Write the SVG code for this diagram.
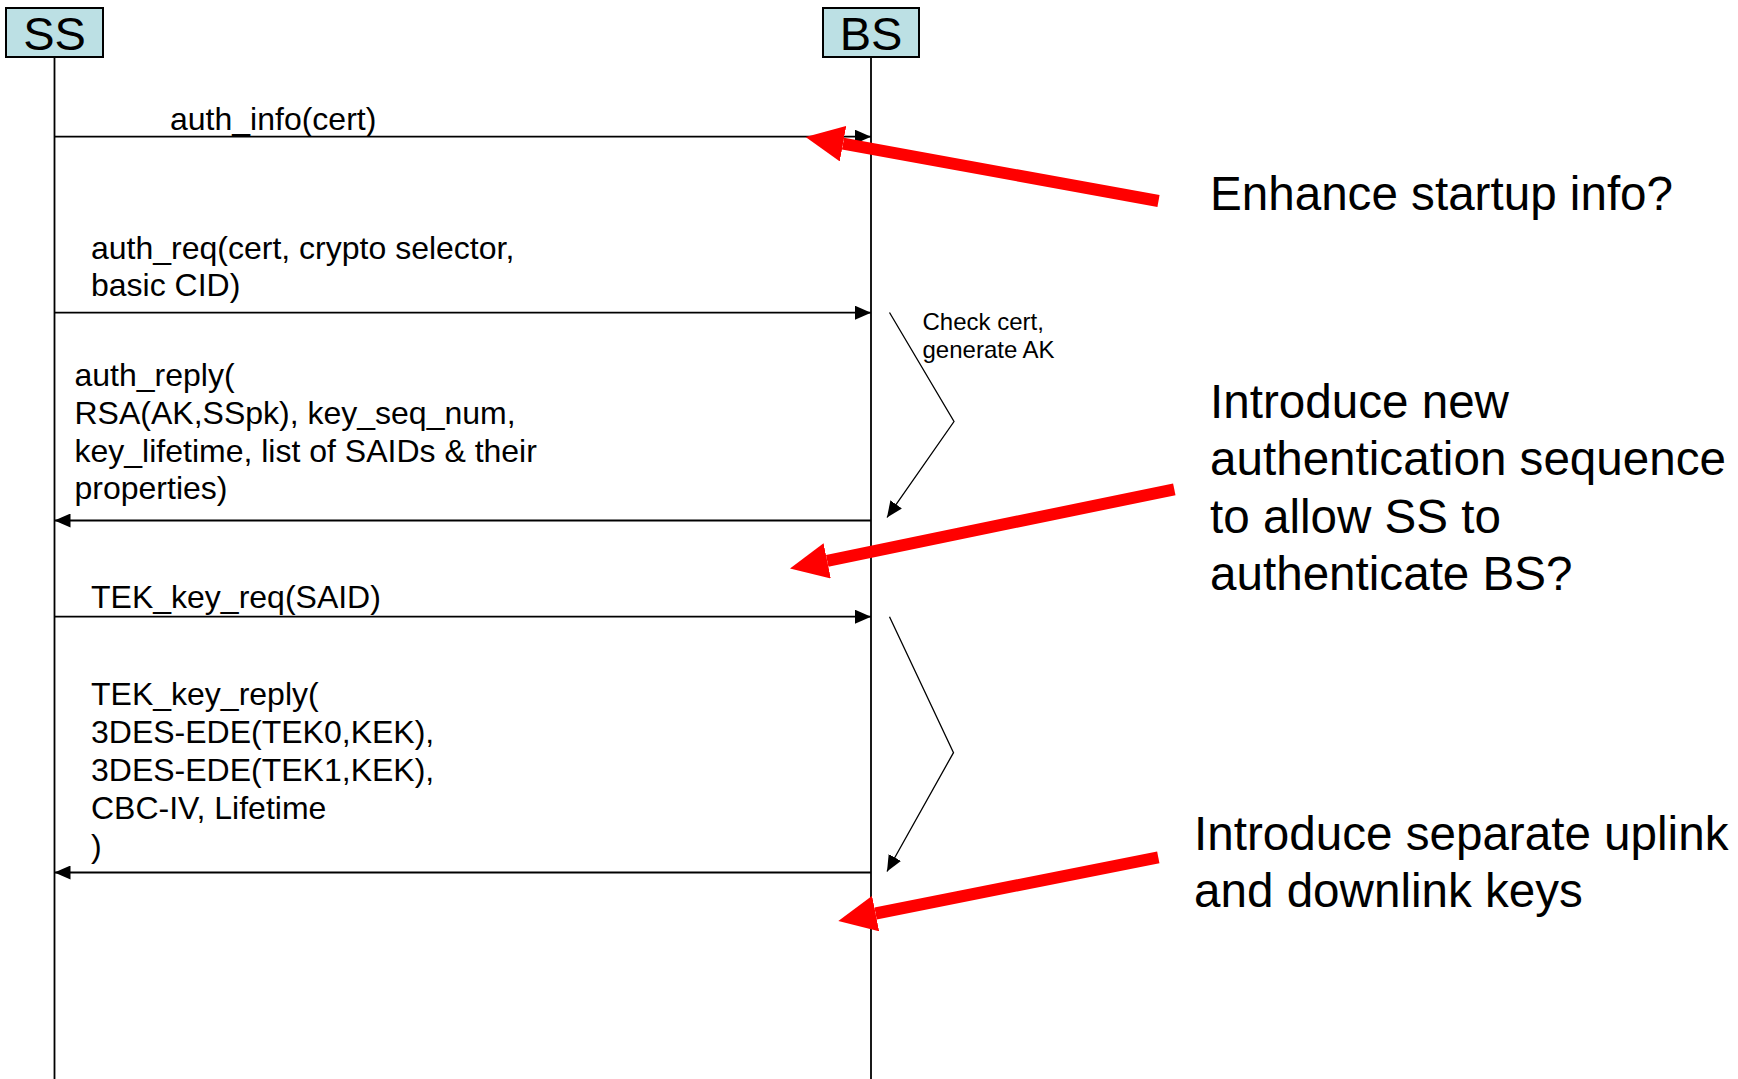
<svg xmlns="http://www.w3.org/2000/svg" width="1738" height="1079" viewBox="0 0 1738 1079">
<style>
  text { font-family: "Liberation Sans", Arial, sans-serif; fill: #000; }
  .actor { fill: #bce0e4; stroke: #000; stroke-width: 2; }
  .actorLabel { font-size: 47px; text-anchor: middle; }
  .life { stroke: #000; stroke-width: 1.8; fill: none; }
  .msg { stroke: #000; stroke-width: 1.8; fill: none; marker-end: url(#ah); }
  .proc { stroke: #000; stroke-width: 1.3; fill: none; marker-end: url(#ah); }
  .lbl { font-size: 32px; }
  .small { font-size: 24px; }
  .note { font-size: 47.6px; }
  .red { stroke: #ff0000; stroke-width: 12; fill: none; marker-end: url(#rh); }
</style>
<defs>
  <marker id="ah" markerUnits="userSpaceOnUse" markerWidth="16" markerHeight="14" viewBox="0 0 16 14" refX="16" refY="7" orient="auto">
    <path d="M0,0 L16,7 L0,14 z" fill="#000"/>
  </marker>
  <marker id="rh" markerUnits="userSpaceOnUse" markerWidth="38" markerHeight="36" viewBox="0 -18 38 36" refX="0" refY="0" orient="auto">
    <path d="M0,-18 L38,0 L0,18 z" fill="#ff0000"/>
  </marker>
</defs>
<rect width="1738" height="1079" fill="#fff"/>

<g id="SS">
  <rect class="actor" x="6" y="8" width="97" height="49"/>
  <text class="actorLabel" x="54.5" y="50">SS</text>
  <line class="life" x1="54.5" y1="57" x2="54.5" y2="1079"/>
</g>
<g id="BS">
  <rect class="actor" x="823" y="8" width="96" height="49"/>
  <text class="actorLabel" x="871" y="50">BS</text>
  <line class="life" x1="871" y1="57" x2="871" y2="1079"/>
</g>

<g id="connectors">
  <line class="msg" x1="54.5" y1="136.7" x2="871" y2="136.7"/>
  <line class="msg" x1="54.5" y1="312.7" x2="871" y2="312.7"/>
  <line class="msg" x1="871" y1="520.5" x2="54.5" y2="520.5"/>
  <line class="msg" x1="54.5" y1="616.7" x2="871" y2="616.7"/>
  <line class="msg" x1="871" y1="872.5" x2="54.5" y2="872.5"/>
  <polyline class="proc" points="889.5,312.5 954,421.5 887,517.5"/>
  <polyline class="proc" points="889.5,616.7 953.5,752.6 887,871.5"/>
  <line class="red" x1="1158.5" y1="201" x2="843" y2="143.7"/>
  <line class="red" x1="1174.3" y1="489.3" x2="827.2" y2="560.8"/>
  <line class="red" x1="1158.3" y1="857.3" x2="875.6" y2="913.5"/>
</g>

<g id="labels">
  <text class="lbl" x="170" y="130">auth_info(cert)</text>
  <text class="lbl" x="91" y="259">auth_req(cert, crypto selector,</text>
  <text class="lbl" x="91" y="296">basic CID)</text>
  <text class="small" x="922.5" y="330">Check cert,</text>
  <text class="small" x="922.5" y="358">generate AK</text>
  <text class="lbl" x="74.5" y="386">auth_reply(</text>
  <text class="lbl" x="74.5" y="424">RSA(AK,SSpk), key_seq_num,</text>
  <text class="lbl" x="74.5" y="462">key_lifetime, list of SAIDs &amp; their</text>
  <text class="lbl" x="74.5" y="499">properties)</text>
  <text class="lbl" x="91" y="608">TEK_key_req(SAID)</text>
  <text class="lbl" x="91" y="705">TEK_key_reply(</text>
  <text class="lbl" x="91" y="743">3DES-EDE(TEK0,KEK),</text>
  <text class="lbl" x="91" y="781">3DES-EDE(TEK1,KEK),</text>
  <text class="lbl" x="91" y="819">CBC-IV, Lifetime</text>
  <text class="lbl" x="91" y="857">)</text>
</g>

<g id="notes">
  <text class="note" x="1210" y="210">Enhance startup info?</text>
  <text class="note" x="1210" y="418">Introduce new</text>
  <text class="note" x="1210" y="475">authentication sequence</text>
  <text class="note" x="1210" y="533">to allow SS to</text>
  <text class="note" x="1210" y="590">authenticate BS?</text>
  <text class="note" x="1194" y="850">Introduce separate uplink</text>
  <text class="note" x="1194" y="907">and downlink keys</text>
</g>
</svg>
